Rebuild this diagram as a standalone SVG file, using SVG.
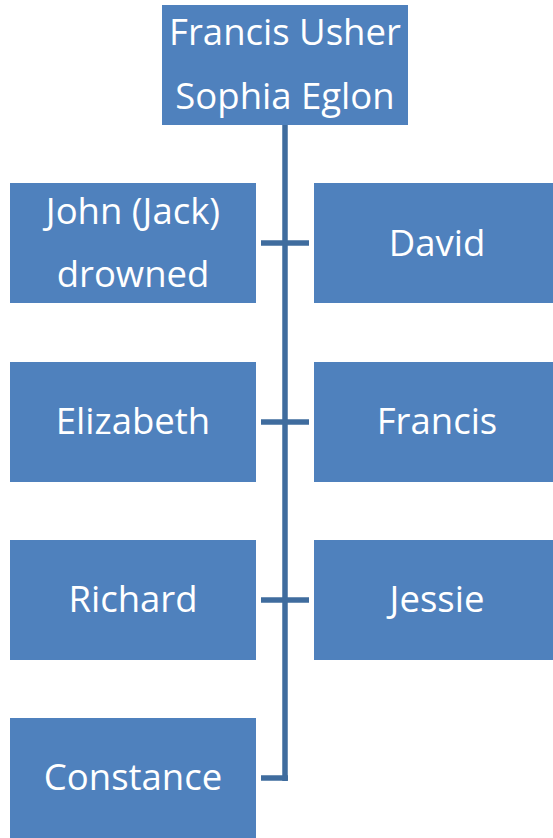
<svg xmlns="http://www.w3.org/2000/svg" width="553" height="838" viewBox="0 0 553 838">
  <style>
    .box { fill: #4F81BD; }
    .lbl { fill: #FFFFFF; font-family: "Open Sans", "Noto Sans", sans-serif; font-size: 36.5px; text-anchor: middle; }
    .link { stroke: #3F6C9E; stroke-width: 5.5; fill: none; }
  </style>
  <rect width="553" height="838" fill="#FFFFFF"/>

  <!-- connectors: trunk from the parents down, short branches to each child -->
  <g id="connectors">
    <path class="link" d="M285 125 V781"/>
    <path class="link" d="M261 243 H309"/>
    <path class="link" d="M261 422 H309"/>
    <path class="link" d="M261 600 H309"/>
    <path class="link" d="M261 778 H288"/>
  </g>

  <g id="parents">
    <rect class="box" x="162" y="5" width="246" height="120"/>
    <text class="lbl" x="285" y="45">Francis Usher</text>
    <text class="lbl" x="285" y="109">Sophia Eglon</text>
  </g>

  <g id="john">
    <rect class="box" x="10" y="183" width="246" height="120"/>
    <text class="lbl" x="133" y="224">John (Jack)</text>
    <text class="lbl" x="133" y="287">drowned</text>
  </g>
  <g id="david">
    <rect class="box" x="314" y="183" width="239" height="120"/>
    <text class="lbl" x="437" y="256">David</text>
  </g>

  <g id="elizabeth">
    <rect class="box" x="10" y="362" width="246" height="120"/>
    <text class="lbl" x="133" y="434">Elizabeth</text>
  </g>
  <g id="francis">
    <rect class="box" x="314" y="362" width="239" height="120"/>
    <text class="lbl" x="437" y="434">Francis</text>
  </g>

  <g id="richard">
    <rect class="box" x="10" y="540" width="246" height="120"/>
    <text class="lbl" x="133" y="612">Richard</text>
  </g>
  <g id="jessie">
    <rect class="box" x="314" y="540" width="239" height="120"/>
    <text class="lbl" x="437" y="612">Jessie</text>
  </g>

  <g id="constance">
    <rect class="box" x="10" y="718" width="246" height="120"/>
    <text class="lbl" x="133" y="790">Constance</text>
  </g>
</svg>
